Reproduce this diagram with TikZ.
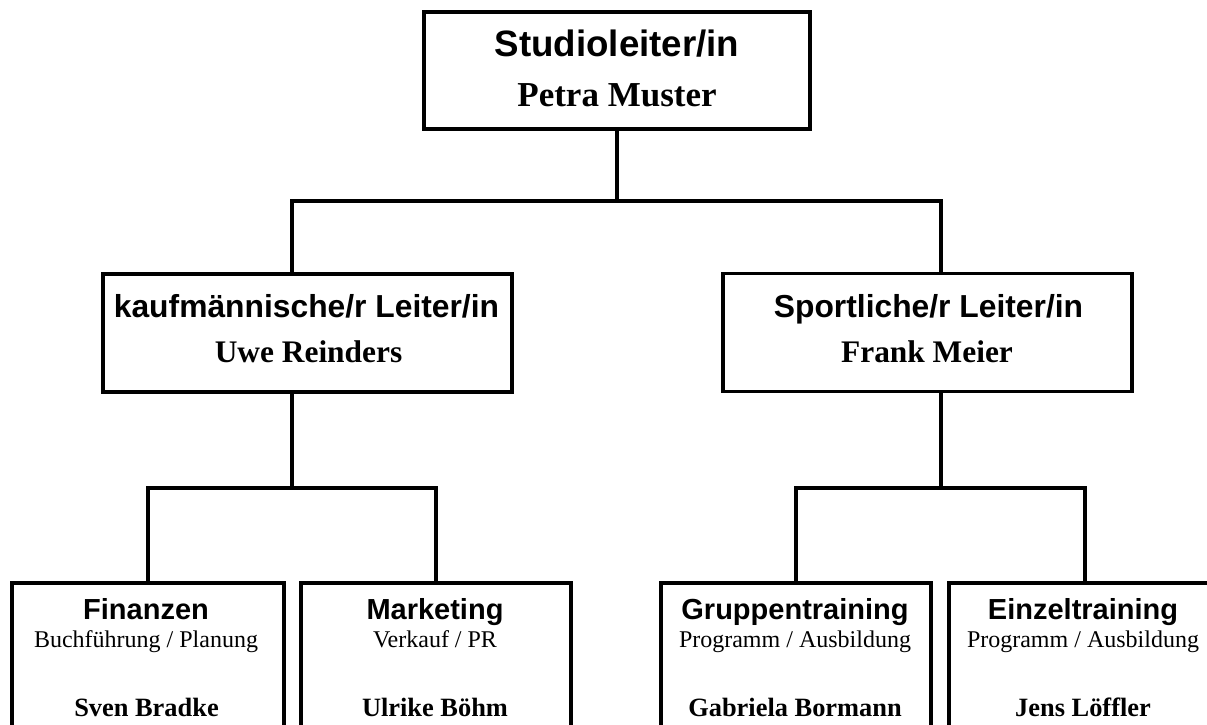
\documentclass[tikz,border=0pt]{standalone}
\usepackage{fontspec}
\setmainfont{Liberation Serif}
\newfontfamily\arialf{Liberation Sans}
\begin{document}
\begin{tikzpicture}[x=1pt,y=-1pt,
  box/.style={draw=black,line width=3.6pt,fill=white,inner sep=0pt,outer sep=0pt},
  conn/.style={draw=black,line width=3.4pt,line cap=butt,line join=miter},
  txt/.style={inner sep=0pt,outer sep=0pt,anchor=base},
  ttop/.style={txt,font=\arialf\bfseries\fontsize{36.7}{40}\selectfont},
  ntop/.style={txt,font=\bfseries\fontsize{35}{38}\selectfont},
  tmid/.style={txt,font=\arialf\bfseries\fontsize{31.8}{34}\selectfont},
  nmid/.style={txt,font=\bfseries\fontsize{31.4}{34}\selectfont},
  tbot/.style={txt,font=\arialf\bfseries\fontsize{29}{32}\selectfont},
  sbot/.style={txt,font=\fontsize{24}{26}\selectfont},
  nbot/.style={txt,font=\bfseries\fontsize{26.4}{29}\selectfont}]
\useasboundingbox (0,0) rectangle (1207,725);
\clip (0,0) rectangle (1207,725);
\fill[white] (0,0) rectangle (1207,725);

% boxes
\node[box,minimum width=386pt,minimum height=117pt] (top) at (617,70.5) {};
\node[box,minimum width=409pt,minimum height=118pt] (ml) at (307.5,333) {};
\node[box,minimum width=409pt,minimum height=118pt] (mr) at (927.5,332.5) {};
\node[box,minimum width=272pt,minimum height=200pt] (fin) at (148,683) {};
\node[box,minimum width=270pt,minimum height=200pt] (mark) at (436,683) {};
\node[box,minimum width=270pt,minimum height=200pt] (grp) at (796,683) {};
\node[box,minimum width=272pt,minimum height=200pt] (einz) at (1085,683) {};

% junctions
\coordinate (hL) at (292,201);
\coordinate (hR) at (941,201);
\coordinate (lL) at (148,488);
\coordinate (lR) at (436,488);
\coordinate (rL) at (796,488);
\coordinate (rR) at (1085,488);

% connectors
\draw[conn] (top.south) -- (top.south |- hL);
\draw[conn] (ml.north -| hL) -- (hL) -- (hR) -- (mr.north -| hR);
\draw[conn] (ml.south -| hL) -- (hL |- lL);
\draw[conn] (fin.north) -- (lL) -- (lR) -- (mark.north);
\draw[conn] (mr.south -| hR) -- (hR |- rL);
\draw[conn] (grp.north) -- (rL) -- (rR) -- (einz.north);

% texts
\node[ttop] (t1) at (617,57) {Studioleiter/in};
\node[ntop] (n1) at (617,106) {Petra Muster};

\node[tmid] (t2) at (306.5,317) {kaufmännische/r Leiter/in};
\node[nmid] (n2) at (308.5,362) {Uwe Reinders};

\node[tmid] (t3) at (928.5,317) {Sportliche/r Leiter/in};
\node[nmid] (n3) at (927,362.5) {Frank Meier};

\node[tbot] (t4) at (146,619) {Finanzen};
\node[sbot] (s4) at (146,647) {Buchführung / Planung};
\node[nbot] (n4) at (146.5,716) {Sven Bradke};

\node[tbot] (t5) at (435,619) {Marketing};
\node[sbot] (s5) at (435,647) {Verkauf / PR};
\node[nbot] (n5) at (435,716) {Ulrike Böhm};

\node[tbot] (t6) at (795,619) {Gruppentraining};
\node[sbot] (s6) at (795,647) {Programm / Ausbildung};
\node[nbot] (n6) at (795,716) {Gabriela Bormann};

\node[tbot] (t7) at (1083,619) {Einzeltraining};
\node[sbot] (s7) at (1083,647) {Programm / Ausbildung};
\node[nbot] (n7) at (1083,716) {Jens Löffler};
\end{tikzpicture}
\end{document}
